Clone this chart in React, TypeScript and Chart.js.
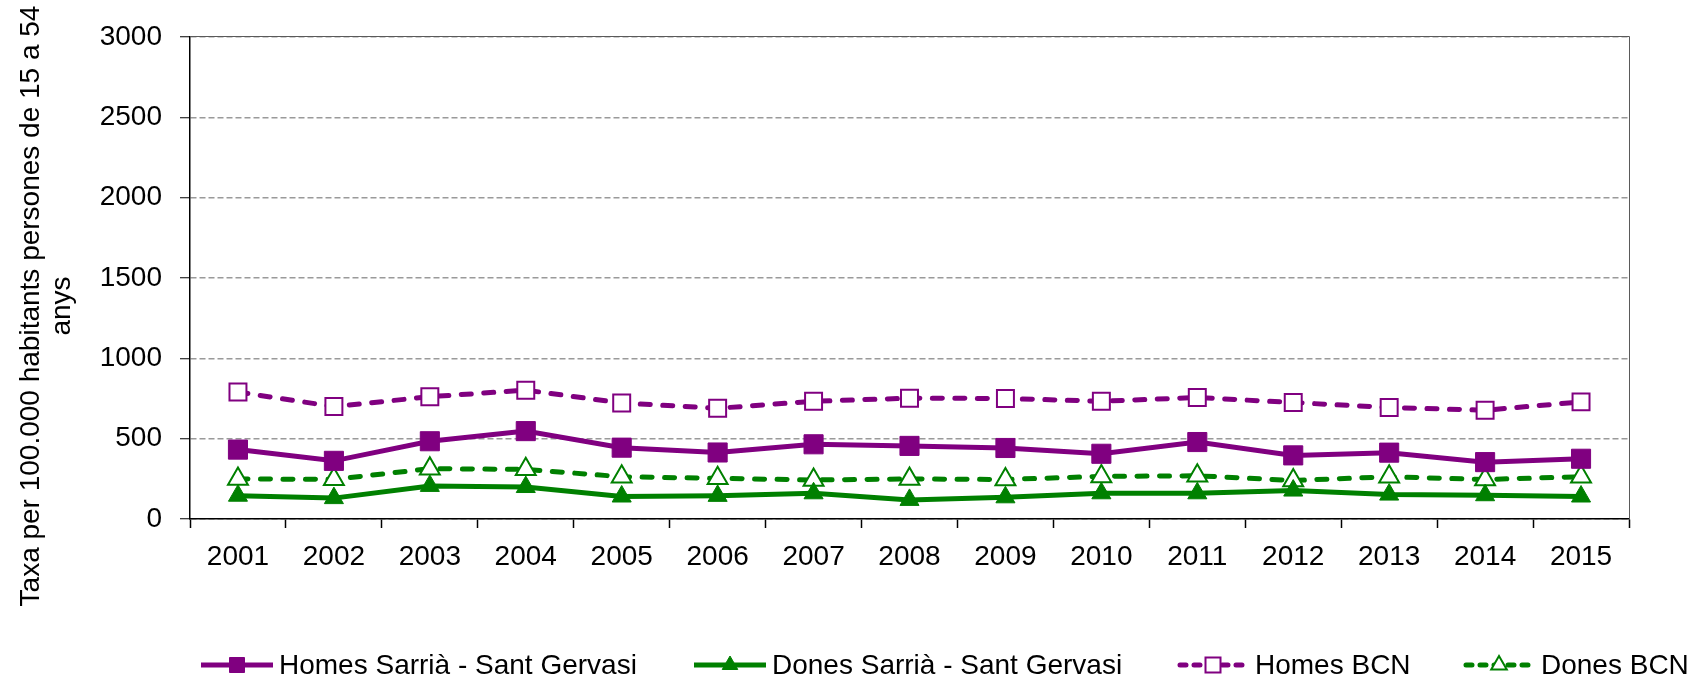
import React, { useEffect, useRef } from "react";
import { Chart, registerables } from "chart.js";

Chart.register(...registerables);

const years = ["2001","2002","2003","2004","2005","2006","2007","2008","2009","2010","2011","2012","2013","2014","2015"];
const homesSarria = [432, 362, 484, 547, 444, 414, 465, 455, 442, 406, 479, 396, 413, 354, 375];
const donesSarria = [145, 130, 206, 199, 140, 144, 160, 119, 135, 160, 160, 177, 152, 148, 140];
const homesBCN = [790, 700, 761, 802, 722, 689, 733, 752, 750, 733, 756, 725, 694, 677, 729];
const donesBCN = [249, 247, 313, 309, 263, 253, 243, 249, 246, 265, 269, 240, 263, 246, 263];
const seriesLabels = ["Homes Sarrià - Sant Gervasi", "Dones Sarrià - Sant Gervasi", "Homes BCN", "Dones BCN"];
const yTitleLines = ["Taxa per 100.000 habitants persones de 15 a 54", "anys"];

const PURPLE = "#800080";
const GREEN = "#008000";
const FONT = "'Liberation Sans', Arial, sans-serif";

const frameAndTextPlugin = {
  id: "frameAndText",
  afterDraw(chart: any) {
    const ctx = chart.ctx;
    const a = chart.chartArea;
    ctx.save();
    // plot frame (top + right)
    ctx.strokeStyle = "#5a5a5a";
    ctx.lineWidth = 1;
    ctx.beginPath();
    ctx.moveTo(a.left, a.top - 0.5);
    ctx.lineTo(a.right + 0.5, a.top - 0.5);
    ctx.lineTo(a.right + 0.5, a.bottom);
    ctx.stroke();

    // y-axis title (two centred lines)
    ctx.fillStyle = "#000";
    ctx.font = `28px ${FONT}`;
    ctx.textBaseline = "middle";
    ctx.textAlign = "center";
    ctx.save();
    ctx.translate(31, 306);
    ctx.rotate(-Math.PI / 2);
    ctx.fillText(yTitleLines[0], 0, 0);
    ctx.restore();
    ctx.save();
    ctx.translate(62, 306);
    ctx.rotate(-Math.PI / 2);
    ctx.fillText(yTitleLines[1], 0, 0);
    ctx.restore();

    // legend
    const starts = [201, 694, 1177, 1463];
    const ly = 665;
    chart.data.datasets.forEach((ds: any, i: number) => {
      const x0 = starts[i];
      const x1 = x0 + 72;
      const dashed = ds.borderDash && ds.borderDash.length;
      ctx.save();
      ctx.strokeStyle = ds.borderColor;
      ctx.lineWidth = 5;
      if (dashed) {
        ctx.setLineDash([6, 8]);
        ctx.lineCap = "round";
      } else {
        ctx.setLineDash([]);
        ctx.lineCap = "butt";
      }
      ctx.beginPath();
      ctx.moveTo(x0 + (dashed ? 3 : 0), ly);
      ctx.lineTo(x1, ly);
      ctx.stroke();
      ctx.setLineDash([]);
      const mx = (x0 + x1) / 2;
      ctx.fillStyle = ds.pointBackgroundColor;
      ctx.strokeStyle = ds.pointBorderColor;
      ctx.lineWidth = ds.pointBorderWidth;
      ctx.beginPath();
      if (ds.pointStyle === "rect") {
        const s = 7.5;
        ctx.rect(mx - s, ly - s, 2 * s, 2 * s);
      } else {
        const r = 9;
        ctx.moveTo(mx, ly - r);
        ctx.lineTo(mx + r * 0.866, ly + r * 0.5);
        ctx.lineTo(mx - r * 0.866, ly + r * 0.5);
        ctx.closePath();
      }
      ctx.fill();
      ctx.stroke();
      ctx.fillStyle = "#000";
      ctx.font = `28px ${FONT}`;
      ctx.textAlign = "left";
      ctx.textBaseline = "middle";
      ctx.fillText(ds.label, x0 + 78, ly + 1);
      ctx.restore();
    });
    ctx.restore();
  },
};

export default function App() {
  const ref = useRef<HTMLCanvasElement>(null);
  useEffect(() => {
    if (!ref.current) return;
    const chart = new Chart(ref.current, {
      type: "line",
      data: {
        labels: years,
        datasets: [
          {
            label: seriesLabels[0],
            data: homesSarria,
            borderColor: PURPLE,
            backgroundColor: PURPLE,
            borderWidth: 5,
            pointStyle: "rect",
            pointRadius: 13.5,
            pointBackgroundColor: PURPLE,
            pointBorderColor: PURPLE,
            pointBorderWidth: 1,
            tension: 0,
          },
          {
            label: seriesLabels[1],
            data: donesSarria,
            borderColor: GREEN,
            backgroundColor: GREEN,
            borderWidth: 5,
            pointStyle: "triangle",
            pointRadius: 11,
            pointBackgroundColor: GREEN,
            pointBorderColor: GREEN,
            pointBorderWidth: 1,
            tension: 0,
          },
          {
            label: seriesLabels[2],
            data: homesBCN,
            borderColor: PURPLE,
            backgroundColor: "#fff",
            borderWidth: 5,
            borderDash: [10, 12.5],
            borderCapStyle: "round",
            pointStyle: "rect",
            pointRadius: 12,
            pointBackgroundColor: "#fff",
            pointBorderColor: PURPLE,
            pointBorderWidth: 2,
            tension: 0,
          },
          {
            label: seriesLabels[3],
            data: donesBCN,
            borderColor: GREEN,
            backgroundColor: "#fff",
            borderWidth: 5,
            borderDash: [10, 12.5],
            borderCapStyle: "round",
            pointStyle: "triangle",
            pointRadius: 11.5,
            pointBackgroundColor: "#fff",
            pointBorderColor: GREEN,
            pointBorderWidth: 2,
            tension: 0,
          },
        ] as any,
      },
      options: {
        responsive: false,
        animation: false,
        layout: { padding: { left: 0, top: 37, right: 65, bottom: 89 } },
        plugins: {
          legend: { display: false },
          title: { display: false },
          tooltip: { enabled: false },
        },
        scales: {
          x: {
            type: "category",
            offset: true,
            grid: {
              drawOnChartArea: false,
              drawTicks: true,
              tickLength: 9,
              tickColor: "#000",
              tickWidth: 1.5,
              offset: true,
            },
            border: { display: true, color: "#000", width: 1.5 },
            ticks: {
              color: "#000",
              font: { family: FONT, size: 28 },
              padding: 12,
              autoSkip: false,
              maxRotation: 0,
              minRotation: 0,
            },
            afterFit: (scale: any) => {
              scale.height = 70;
            },
          },
          y: {
            min: 0,
            max: 3000,
            ticks: {
              stepSize: 500,
              color: "#000",
              font: { family: FONT, size: 28 },
              padding: 18,
              callback: (v: any) => String(v),
            },
            grid: {
              color: "#9a9a9a",
              lineWidth: 1.5,
              drawTicks: true,
              tickLength: 10,
              tickColor: "#000",
              tickWidth: 1,
              tickBorderDash: [],
            },
            border: { display: true, color: "#000", width: 1.5, dash: [6, 3] },
            afterFit: (scale: any) => {
              scale.width = 190;
            },
          },
        },
      } as any,
      plugins: [frameAndTextPlugin],
    });
    return () => chart.destroy();
  }, []);
  return (
    <div style={{ position: "fixed", left: 0, top: 0, width: 1694, height: 678, background: "#fff" }}>
      <canvas ref={ref} width={1694} height={678} style={{ display: "block" }} />
    </div>
  );
}
